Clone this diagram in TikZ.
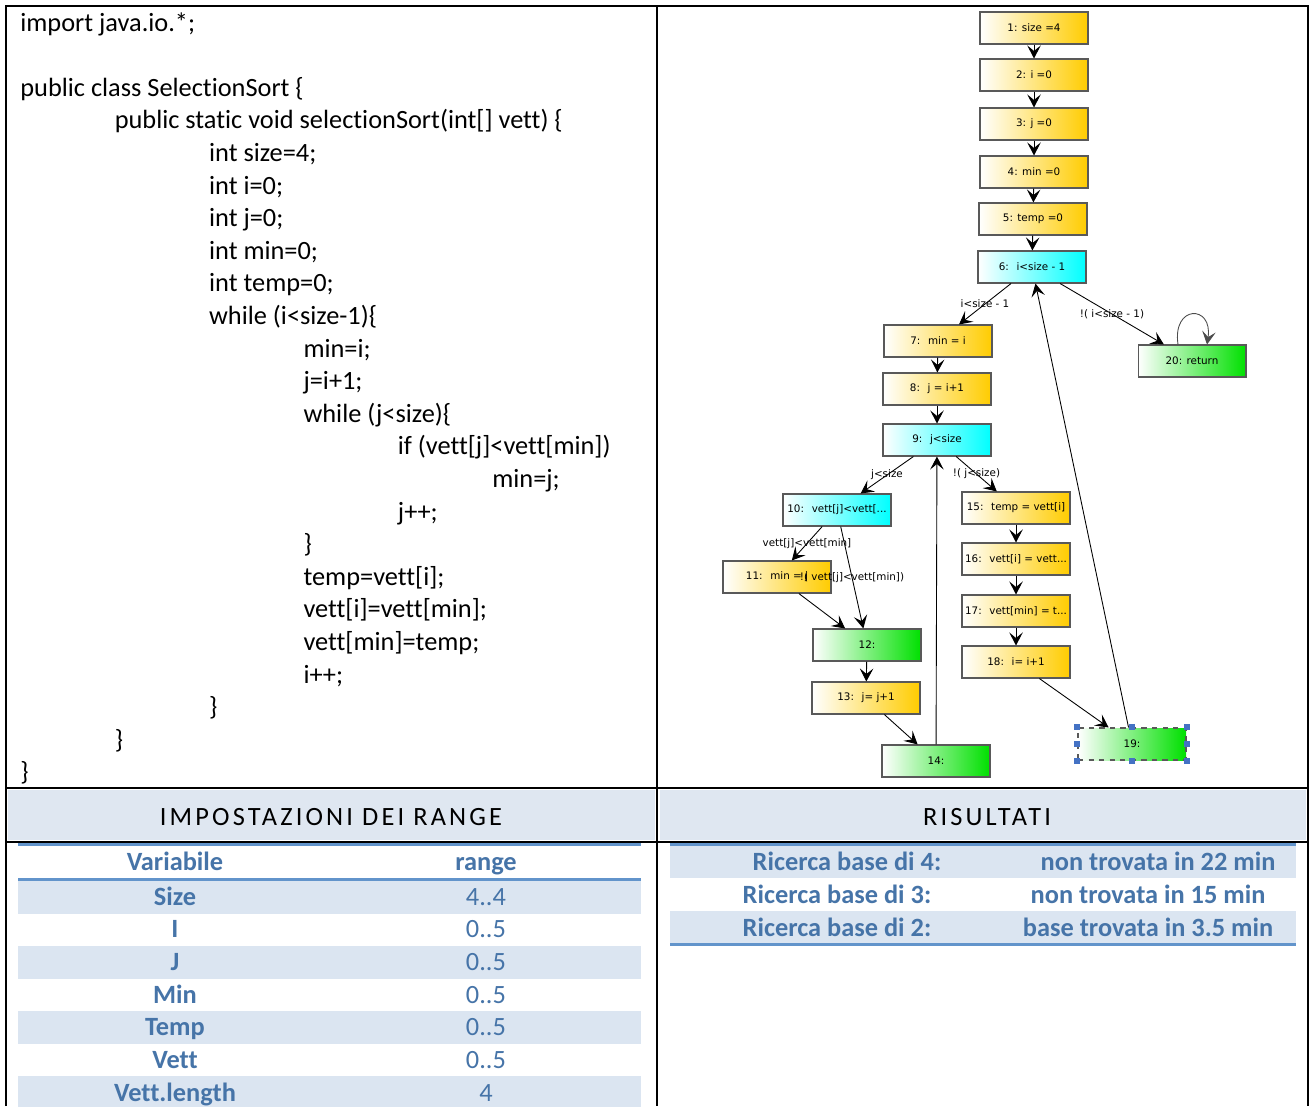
\documentclass[tikz,border=0pt]{standalone}
\usepackage{fontspec}
\setmainfont[Ligatures=NoCommon]{Carlito}
\newfontfamily\flowfont{DejaVu Sans}
\newfontfamily\capsfont[LetterSpace=12]{Carlito}
\usetikzlibrary{arrows.meta}

\definecolor{flowyellow}{RGB}{255,204,0}
\definecolor{flowcyan}{RGB}{0,255,255}
\definecolor{flowgreen}{RGB}{0,224,0}
\definecolor{bandfill}{RGB}{223,231,241}
\definecolor{rowfill}{RGB}{219,229,241}
\definecolor{tabblue}{RGB}{98,148,203}
\definecolor{tabtext}{RGB}{70,116,168}
\definecolor{handleblue}{RGB}{68,114,196}

\begin{document}
\begin{tikzpicture}
  [x=0.02cm,y=-0.02cm,
   box/.style={draw=black!65,line width=0.6pt,minimum width=2.16cm,minimum height=0.64cm,
     inner sep=0pt,font=\flowfont\fontsize{5.9}{7}\selectfont},
   assignbox/.style={box,left color=white,right color=flowyellow},
   testbox/.style={box,left color=white,right color=flowcyan},
   mergebox/.style={box,left color=white,right color=flowgreen},
   arr/.style={-{Stealth[length=2.6mm,width=2.7mm,inset=1.1mm]},line width=0.5pt},
   lbl/.style={font=\flowfont\fontsize{5.9}{7}\selectfont,inner sep=0pt},
   codeline/.style={anchor=base west,inner sep=0pt,font=\fontsize{15}{18}\selectfont},
   cell/.style={anchor=base,inner sep=0pt,text=tabtext,font=\bfseries\fontsize{15}{18}\selectfont},
   value/.style={cell,font=\fontsize{15}{18}\selectfont},
   frame/.style={line width=1.1pt},
   rule/.style={tabblue,line width=1.7pt}]
  \useasboundingbox (0,0) rectangle (1311,1106);

  % header bands and table shading
  \fill[bandfill] (8,790) rectangle (655,840);
  \fill[bandfill] (660,790) rectangle (1306,840);
  \foreach \y in {881,946,1011,1076}
    \fill[rowfill] (18,\y) rectangle (641,\y+32.5);
  \fill[rowfill] (670,846) rectangle (1296,878);
  \fill[rowfill] (670,911) rectangle (1296,943);
  \draw[rule] (18,844.5) -- (641,844.5);
  \draw[rule] (18,879.5) -- (641,879.5);
  \draw[rule] (670,844.5) -- (1296,844.5);
  \draw[rule] (670,944.5) -- (1296,944.5);

  % outer frame
  \draw[frame] (6,1106) -- (6,6) -- (1308,6) -- (1308,1106);
  \draw[frame] (657,6) -- (657,1106);
  \draw[frame] (6,788) -- (1308,788);
  \draw[frame] (6,842) -- (1308,842);

  % source code
  \foreach \ln/\lvl/\txt in {0/0/import java.io.*;,2/0/public class SelectionSort \{,
      3/1/public static void selectionSort(int[] vett) \{,4/2/int size=4;,5/2/int i=0;,
      6/2/int j=0;,7/2/int min=0;,8/2/int temp=0;,9/2/while (i<size-1)\{,10/3/min=i;,
      11/3/j=i+1;,12/3/while (j<size)\{,13/4/if (vett[j]<vett[min]),14/5/min=j;,
      15/4/j++;,16/3/\},17/3/temp=vett[i];,18/3/vett[i]=vett[min];,19/3/vett[min]=temp;,
      20/3/i++;,21/2/\},22/1/\},23/0/\}}
    \node[codeline] (c\ln) at (20+94.4*\lvl,31+32.6*\ln) {\txt};

  % headers
  \node[anchor=base,inner sep=0pt,font=\capsfont\fontsize{15}{18}\selectfont] (hrange) at (331,825.5) {IMPOSTAZIONI DEI RANGE};
  \node[anchor=base,inner sep=0pt,font=\capsfont\fontsize{15}{18}\selectfont] (hres) at (987,825.5) {RISULTATI};

  % range table
  \node[cell] (vhead) at (175,870) {Variabile};
  \node[cell] (rhead) at (486,870) {range};
  \foreach \k/\var/\rng in {0/Size/4..4,1/I/0..5,2/J/0..5,3/Min/0..5,4/Temp/0..5,5/Vett/0..5,6/Vett.length/4}{
    \node[cell] (var\k) at (175,905+32.7*\k) {\var};
    \node[value] (rng\k) at (486,905+32.7*\k) {\rng};
  }

  % results table
  \node[cell] (res1) at (847,870) {Ricerca base di 4:};
  \node[cell] (out1) at (1158,870) {non trovata in 22 min};
  \node[cell] (res2) at (837,903) {Ricerca base di 3:};
  \node[cell] (out2) at (1148,903) {non trovata in 15 min};
  \node[cell] (res3) at (837,936) {Ricerca base di 2:};
  \node[cell] (out3) at (1148,936) {base trovata in 3.5 min};

  % control flow graph
  \node[assignbox] (n1) at (1034,28) {1: size =4};
  \node[assignbox] (n2) at (1034,75) {2: i =0};
  \node[assignbox] (n3) at (1034,124) {3: j =0};
  \node[assignbox] (n4) at (1034,172) {4: min =0};
  \node[assignbox] (n5) at (1033,219) {5: temp =0};
  \node[testbox] (n6) at (1032,267) {6:~ i<size - 1};
  \node[assignbox] (n7) at (938,341) {7:~ min = i};
  \node[assignbox] (n8) at (937,389) {8:~ j = i+1};
  \node[testbox] (n9) at (937,440) {9:~ j<size};
  \node[testbox] (n10) at (837,510) {10:~ vett[j]<vett[...};
  \node[assignbox] (n11) at (777,577) {11:~ min = j};
  \node[mergebox] (n12) at (867,645) {12:};
  \node[assignbox] (n13) at (866,698) {13:~ j= j+1};
  \node[mergebox] (n14) at (936,761) {14:};
  \node[assignbox] (n15) at (1016,508) {15:~ temp = vett[i]};
  \node[assignbox] (n16) at (1016,559) {16:~ vett[i] = vett...};
  \node[assignbox] (n17) at (1016,611) {17:~ vett[min] = t...};
  \node[assignbox] (n18) at (1016,662) {18:~ i= i+1};
  \node[mergebox,dashed] (n19) at (1132,744) {19:};
  \node[mergebox] (n20) at (1192,361) {20: return};

  \foreach \from/\to in {n1/n2,n2/n3,n3/n4,n4/n5,n5/n6,n7/n8,n8/n9,n11/n12,n12/n13,
      n13/n14,n14/n9,n15/n16,n16/n17,n17/n18,n18/n19,n19/n6}
    \draw[arr] (\from) -- (\to);
  \draw[arr] (n6) -- node[lbl] {i<size - 1} (n7);
  \draw[arr] (n6) -- node[lbl] {!( i<size - 1)} (n20);
  \draw[arr] (n9) -- node[lbl] {j<size} (n10);
  \draw[arr] (n9) -- node[lbl] {!( j<size)} (n15);
  \draw[arr] (n10) -- node[lbl] {vett[j]<vett[min]} (n11);
  \draw[arr] (n10) -- node[lbl] {!( vett[j]<vett[min])} (n12);
  \draw[arr,black!70] ([xshift=-0.28cm]n20.north) .. controls +(-6,-40) and +(6,-40) .. ([xshift=0.3cm]n20.north);

  % selection handles
  \foreach \a in {north west,north,north east,west,east,south west,south,south east}
    \fill[handleblue] (n19.\a) ++(-3,-3) rectangle ++(6,6);
\end{tikzpicture}
\end{document}
